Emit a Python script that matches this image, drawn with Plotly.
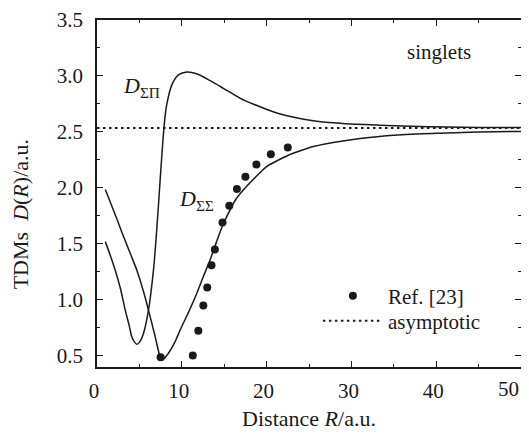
import plotly.graph_objects as go

# D_ΣΠ curve
sp_R = [0.98, 1.6, 2.15, 2.8, 3.33, 3.8, 4.1, 4.45, 4.7, 5.0, 5.48, 6.07, 6.66, 7.0, 7.25,
        7.5, 7.75, 8.0, 8.24, 8.82, 9.6, 10.6, 11.76, 13.3, 14.9, 16.9, 18.4, 21.6, 25.5,
        29.0, 33.3, 37.0, 41.2, 45.0, 50.0]
sp_D = [1.52, 1.39, 1.265, 1.09, 0.908, 0.77, 0.67, 0.62, 0.604, 0.62, 0.70, 0.908, 1.265, 1.58, 1.85,
        2.13, 2.40, 2.62, 2.75, 2.92, 3.01, 3.036, 3.02, 2.96, 2.89, 2.80, 2.75, 2.66, 2.60,
        2.575, 2.56, 2.55, 2.545, 2.54, 2.54]

# D_ΣΣ curve
ss_R = [0.98, 2.0, 3.0, 4.0, 4.7, 5.5, 6.07, 6.8, 7.45, 7.7, 8.2, 9.2, 9.8, 10.8, 11.76,
        12.5, 13.33, 14.1, 14.9, 16.3, 17.6, 20.0, 22.5, 25.5, 29.0, 33.3, 37.0, 41.2, 45.0, 50.0]
ss_D = [1.986, 1.79, 1.59, 1.40, 1.265, 1.07, 0.908, 0.69, 0.486, 0.46, 0.50, 0.625, 0.73, 0.89, 1.057,
        1.20, 1.355, 1.52, 1.68, 1.89, 2.01, 2.19, 2.29, 2.37, 2.42, 2.46, 2.48, 2.49, 2.50, 2.505]

# Ref. [23] points
ref_R = [7.5, 11.3, 11.95, 12.54, 13.0, 13.5, 13.9, 14.8, 15.6, 16.5, 17.5, 18.8, 20.5, 22.5]
ref_D = [0.486, 0.503, 0.724, 0.95, 1.11, 1.31, 1.45, 1.69, 1.84, 1.99, 2.10, 2.21, 2.30, 2.36]

# asymptote
asym_R = [0, 50]
asym_value = 2.535

# x tick labels (last one drawn separately, right-aligned to the axis end)
x_ticks = [0, 10, 20, 30, 40, 50]
x_ticktext = ["0", "10", "20", "30", "40", ""]
x_last_label = "50"

FONT = "Liberation Serif, Times New Roman, DejaVu Serif, serif"
INK = "#1a1a1a"
TXT = 21
TITLE = 22

fig = go.Figure()
fig.add_trace(go.Scatter(x=sp_R, y=sp_D, mode="lines", line=dict(color=INK, width=1.5, shape="spline", smoothing=0.7),
                         showlegend=False, hoverinfo="skip"))
fig.add_trace(go.Scatter(x=ss_R, y=ss_D, mode="lines", line=dict(color=INK, width=1.5, shape="spline", smoothing=0.5),
                         showlegend=False, hoverinfo="skip"))
fig.add_trace(go.Scatter(x=ref_R, y=ref_D, mode="markers", name="Ref. [23]",
                         marker=dict(color=INK, size=8), legend="legend"))
fig.add_trace(go.Scatter(x=asym_R, y=[asym_value] * len(asym_R), mode="lines", name="asymptotic",
                         line=dict(color=INK, width=2, dash="2.5px,3.5px"), legend="legend2"))

axis_common = dict(showline=True, linecolor=INK, linewidth=1.5, mirror="ticks", ticks="inside",
                   ticklen=6, tickwidth=1.2, tickcolor=INK, showgrid=False, zeroline=False,
                   automargin=False, ticklabeloverflow="allow",
                   tickfont=dict(family=FONT, size=TXT, color=INK))

leg_common = dict(xanchor="left", yanchor="middle", bgcolor="rgba(0,0,0,0)",
                  font=dict(family=FONT, size=TXT, color=INK), itemwidth=60)

fig.update_layout(
    width=521, height=429,
    margin=dict(l=89, r=8, t=12, b=70),
    plot_bgcolor="white", paper_bgcolor="white",
    font=dict(family=FONT, size=TXT, color=INK),
    xaxis=dict(range=[0, 50], tickmode="array", tickvals=x_ticks, ticktext=x_ticktext,
               ticklabelshift=-3, ticklabelstandoff=4,
               minor=dict(dtick=5, ticks="inside", ticklen=3, tickcolor=INK, tickwidth=1),
               title=dict(text="Distance <i>R</i>/a.u.", font=dict(family=FONT, size=TITLE, color=INK), standoff=9),
               **axis_common),
    yaxis=dict(range=[0.4, 3.5], dtick=0.5, tick0=0.5, tickformat=".1f", ticklabelstandoff=8,
               minor=dict(dtick=0.25, ticks="inside", ticklen=3, tickcolor=INK, tickwidth=1),
               **axis_common),
    legend=dict(x=0.521, y=0.2046, **leg_common),
    legend2=dict(x=0.521, y=0.1326, **leg_common),
    annotations=[
        dict(xref="paper", yref="paper", x=-0.1816, y=0.44, text="TDMs  <i>D</i>(<i>R</i>)/a.u.",
             textangle=-90, showarrow=False, xanchor="center", yanchor="middle",
             font=dict(family=FONT, size=TITLE, color=INK)),
        dict(xref="x", yref="paper", x=x_ticks[-1], y=-0.0634, text=x_last_label, showarrow=False,
             xanchor="right", yanchor="middle", font=dict(family=FONT, size=TXT, color=INK)),
        dict(x=40.3, y=3.21, text="singlets", showarrow=False, font=dict(family=FONT, size=TXT, color=INK)),
        dict(x=5.2, y=2.9, text="<i>D</i><sub>ΣΠ</sub>", showarrow=False, font=dict(family=FONT, size=22, color=INK)),
        dict(x=11.7, y=1.89, text="<i>D</i><sub>ΣΣ</sub>", showarrow=False, font=dict(family=FONT, size=22, color=INK)),
    ],
)

fig.write_html("out.html")
